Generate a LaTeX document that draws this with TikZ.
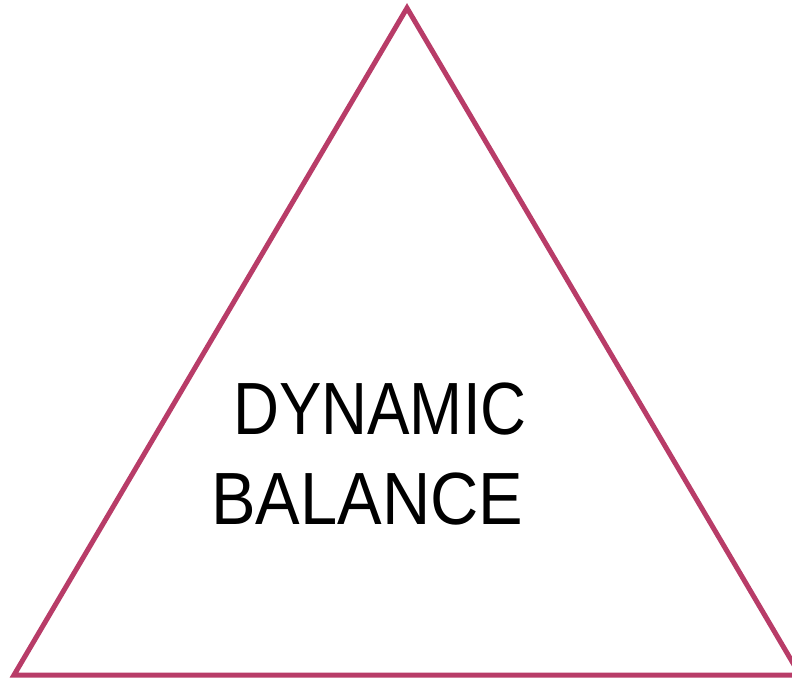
\documentclass[tikz,border=0pt]{standalone}
\usepackage{fontspec}
\setmainfont{Liberation Sans}[FakeStretch=0.86,Kerning=Off]
\definecolor{tri}{RGB}{184,60,104}
\begin{document}
\begin{tikzpicture}[x=1pt,y=-1pt,
  edge/.style={draw=tri,line width=5pt,line join=miter},
  lbl/.style={inner sep=0pt,anchor=base west,font=\fontsize{74}{80}\selectfont}]
\useasboundingbox (0,0) rectangle (792,678);
\coordinate (apex) at (407,8);
\coordinate (bl) at (14,675);
\coordinate (br) at (800,675);
\draw[edge] (apex) -- (bl) -- (br) -- cycle;
\node[lbl] (l1) at (233,434) {DYNAMIC};
\node[lbl] (l2) at (211,524) {\scalebox{1.05}[1]{BALANCE}};
\end{tikzpicture}
\end{document}
